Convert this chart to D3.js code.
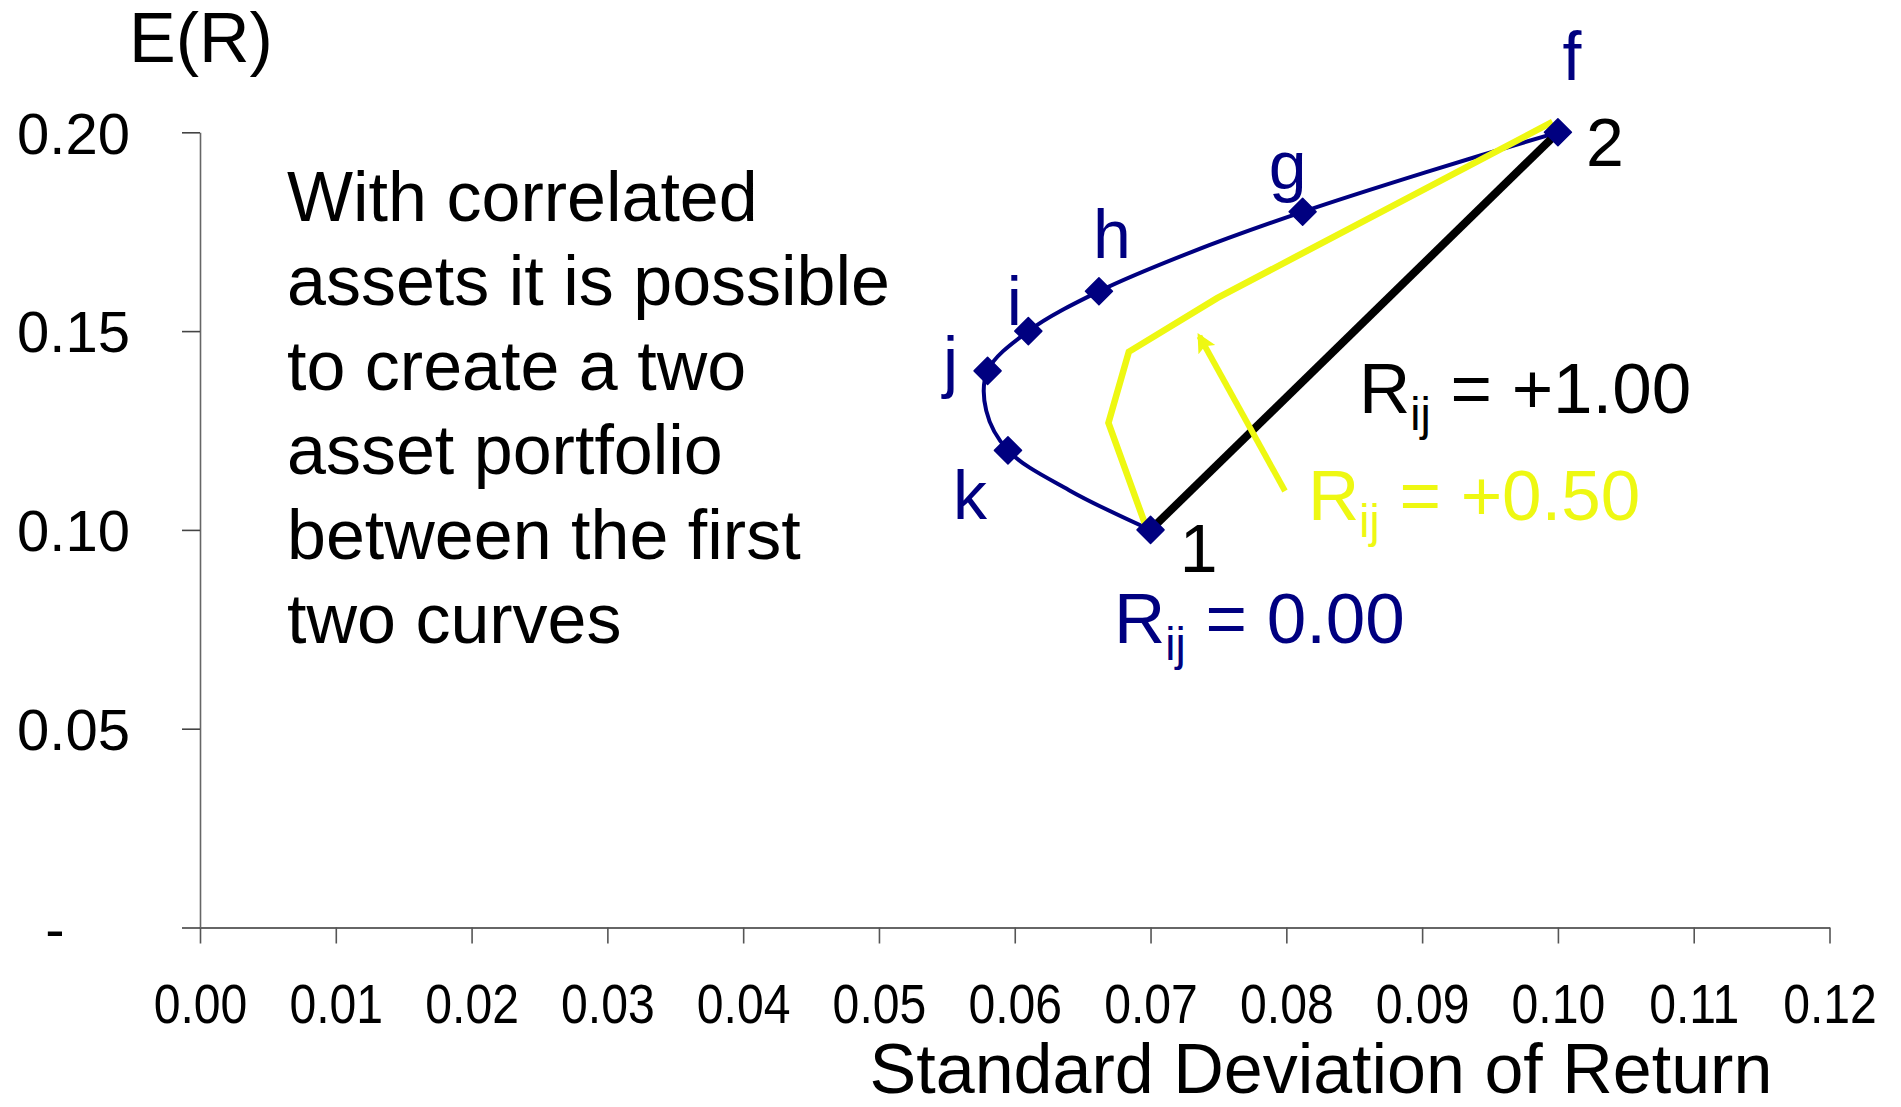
<!DOCTYPE html>
<html>
<head>
<meta charset="utf-8">
<script src="https://cdn.jsdelivr.net/npm/d3@7"></script>
<style>
  html, body { margin: 0; padding: 0; background: #fff; }
  svg { display: block; font-family: "Liberation Sans", Arial, sans-serif; }
</style>
</head>
<body>
<svg id="chart" width="1901" height="1107"></svg>
<script>
(function () {
    // Rij = 0.00 curve (standard deviation, expected return)
    const blueSigma = [0.0700, 0.0640, 0.0595, 0.0579, 0.0580, 0.0610, 0.0662, 0.0731, 0.0812, 0.0903, 0.1000];
    const blueReturn = [0.10, 0.11, 0.12, 0.13, 0.14, 0.15, 0.16, 0.17, 0.18, 0.19, 0.20];
    const blueMarked = [true, false, true, false, true, true, true, false, true, false, true];

    // Rij = +0.50 curve (hand drawn)
    const yellowSigma = [0.0697, 0.0669, 0.0684, 0.0749, 0.0996];
    const yellowReturn = [0.1005, 0.1269, 0.1448, 0.1583, 0.2026];

    // Rij = +1.00 line
    const blackSigma = [0.07, 0.10];
    const blackReturn = [0.10, 0.20];

    // arrow pointing at the yellow curve
    const arrowSigma = [0.0799, 0.0736];
    const arrowReturn = [0.1098, 0.1487];

    // names of the marked points, in curve order
    const pointNames = ['1', 'k', 'j', 'i', 'h', 'g', 'f'];

    const xTicks = [0, 0.01, 0.02, 0.03, 0.04, 0.05, 0.06, 0.07, 0.08, 0.09, 0.10, 0.11, 0.12];
    const yTicks = [0, 0.05, 0.10, 0.15, 0.20];

    const noteLines = [
        'With correlated',
        'assets it is possible',
        'to create a two',
        'asset portfolio',
        'between the first',
        'two curves'
    ];

    const NAVY = '#000080';
    const YELLOW = '#eef812';

    const svg = d3.select('#chart');

    const x = d3.scaleLinear().domain([0, 0.12]).range([200, 1829.5]);
    const y = d3.scaleLinear().domain([0, 0.20]).range([927.5, 132.3]);

    // axes
    const xAxis = d3.axisBottom(x)
        .tickValues(xTicks)
        .tickSizeInner(16)
        .tickSizeOuter(0)
        .tickFormat(d3.format('.2f'));

    const yAxis = d3.axisLeft(y)
        .tickValues(yTicks)
        .tickSizeInner(18)
        .tickSizeOuter(0)
        .tickPadding(52)
        .tickFormat(d => d === 0 ? '-' : d3.format('.2f')(d));

    const gx = svg.append('g')
        .attr('transform', `translate(0,${y(0)})`)
        .call(xAxis);
    gx.select('.domain').attr('stroke', '#333').attr('stroke-width', 1.6);
    gx.selectAll('.tick line').attr('stroke', '#555').attr('stroke-width', 1.6);
    gx.selectAll('.tick text')
        .attr('fill', '#000')
        .attr('font-size', 56)
        .attr('font-family', '"Liberation Sans", Arial, sans-serif')
        .attr('y', 96)
        .attr('dy', null)
        .attr('transform', 'scale(0.86,1)');

    const gy = svg.append('g')
        .attr('transform', `translate(${x(0)},0)`)
        .call(yAxis);
    gy.select('.domain').attr('stroke', '#666').attr('stroke-width', 1.6);
    gy.selectAll('.tick line').attr('stroke', '#444').attr('stroke-width', 1.6);
    gy.selectAll('.tick text')
        .attr('fill', '#000')
        .attr('font-size', 58)
        .attr('font-family', '"Liberation Sans", Arial, sans-serif')
        .attr('dy', '0.36em');
    gy.selectAll('.tick text')
        .filter(d => d === 0)
        .attr('text-anchor', 'middle')
        .attr('x', -145);

    // axis titles
    svg.append('text')
        .attr('x', 201)
        .attr('y', 62)
        .attr('text-anchor', 'middle')
        .attr('font-size', 70)
        .text('E(R)');

    svg.append('text')
        .attr('x', 1321)
        .attr('y', 1093)
        .attr('text-anchor', 'middle')
        .attr('font-size', 70)
        .text('Standard Deviation of Return');

    // note
    svg.append('text')
        .attr('font-size', 70)
        .selectAll('tspan')
        .data(noteLines)
        .join('tspan')
        .attr('x', 287)
        .attr('y', (d, i) => 221 + i * 84.4)
        .text(d => d);

    const line = d3.line()
        .x(d => x(d[0]))
        .y(d => y(d[1]));

    const bluePts = blueSigma.map((s, i) => [s, blueReturn[i], blueMarked[i]]);
    const yellowPts = yellowSigma.map((s, i) => [s, yellowReturn[i]]);
    const blackPts = blackSigma.map((s, i) => [s, blackReturn[i]]);
    const arrowPts = arrowSigma.map((s, i) => [s, arrowReturn[i]]);

    svg.append('path')
        .datum(bluePts)
        .attr('d', line.curve(d3.curveCatmullRom.alpha(0.5)))
        .attr('fill', 'none')
        .attr('stroke', NAVY)
        .attr('stroke-width', 4)
        .attr('stroke-linejoin', 'round');
    line.curve(d3.curveLinear);

    svg.append('path')
        .datum(yellowPts)
        .attr('d', line)
        .attr('fill', 'none')
        .attr('stroke', YELLOW)
        .attr('stroke-width', 6.5);

    svg.append('path')
        .datum(blackPts)
        .attr('d', line)
        .attr('fill', 'none')
        .attr('stroke', '#000')
        .attr('stroke-width', 8);

    // arrow
    svg.append('defs').append('marker')
        .attr('id', 'arrowhead')
        .attr('viewBox', '0 0 10 10')
        .attr('refX', 8)
        .attr('refY', 5)
        .attr('markerWidth', 4)
        .attr('markerHeight', 3.2)
        .attr('markerUnits', 'strokeWidth')
        .attr('orient', 'auto')
        .append('path')
        .attr('d', 'M0,0 L10,5 L0,10 L2,5 Z')
        .attr('fill', YELLOW);

    svg.append('path')
        .datum(arrowPts)
        .attr('d', line)
        .attr('fill', 'none')
        .attr('stroke', YELLOW)
        .attr('stroke-width', 6)
        .attr('marker-end', 'url(#arrowhead)');

    // diamond markers
    const r = 13.5;
    svg.selectAll('.marker')
        .data(bluePts.filter(d => d[2]))
        .join('path')
        .attr('class', 'marker')
        .attr('transform', d => `translate(${x(d[0])},${y(d[1])})`)
        .attr('d', `M0,${-r}L${r},0L0,${r}L${-r},0Z`)
        .attr('fill', NAVY)
        .attr('stroke', NAVY)
        .attr('stroke-width', 1.5)
        .attr('stroke-linejoin', 'round');

    // point labels: offsets relative to marker
    const labelOffsets = {
        '1': [48, 42],
        'k': [-38, 69],
        'j': [-37, 14],
        'i': [-14, -6],
        'h': [13, -33],
        'g': [-15, -23],
        'f': [14, -52]
    };
    const marked = bluePts.filter(d => d[2]);
    svg.selectAll('.pname')
        .data(pointNames)
        .join('text')
        .attr('class', 'pname')
        .attr('text-anchor', 'middle')
        .attr('font-size', 68)
        .attr('fill', d => d === '1' ? '#000' : NAVY)
        .attr('x', (d, i) => x(marked[i][0]) + labelOffsets[d][0])
        .attr('y', (d, i) => y(marked[i][1]) + labelOffsets[d][1])
        .text(d => d);

    svg.append('text')
        .attr('x', x(blackSigma[1]) + 47)
        .attr('y', y(blackReturn[1]) + 34)
        .attr('text-anchor', 'middle')
        .attr('font-size', 68)
        .attr('fill', '#000')
        .text('2');

    // correlation labels
    function rLabel(px, py, value, color) {
        const t = svg.append('text')
            .attr('x', px)
            .attr('y', py)
            .attr('font-size', 71)
            .attr('fill', color);
        t.append('tspan').text('R');
        t.append('tspan').attr('font-size', 46).attr('dy', 17).text('ij');
        t.append('tspan').attr('dy', -17).text(' = ' + value);
    }
    rLabel(1359, 413, '+1.00', '#000');
    rLabel(1308, 520, '+0.50', YELLOW);
    rLabel(1114, 643, '0.00', NAVY);
})();
</script>
</body>
</html>
